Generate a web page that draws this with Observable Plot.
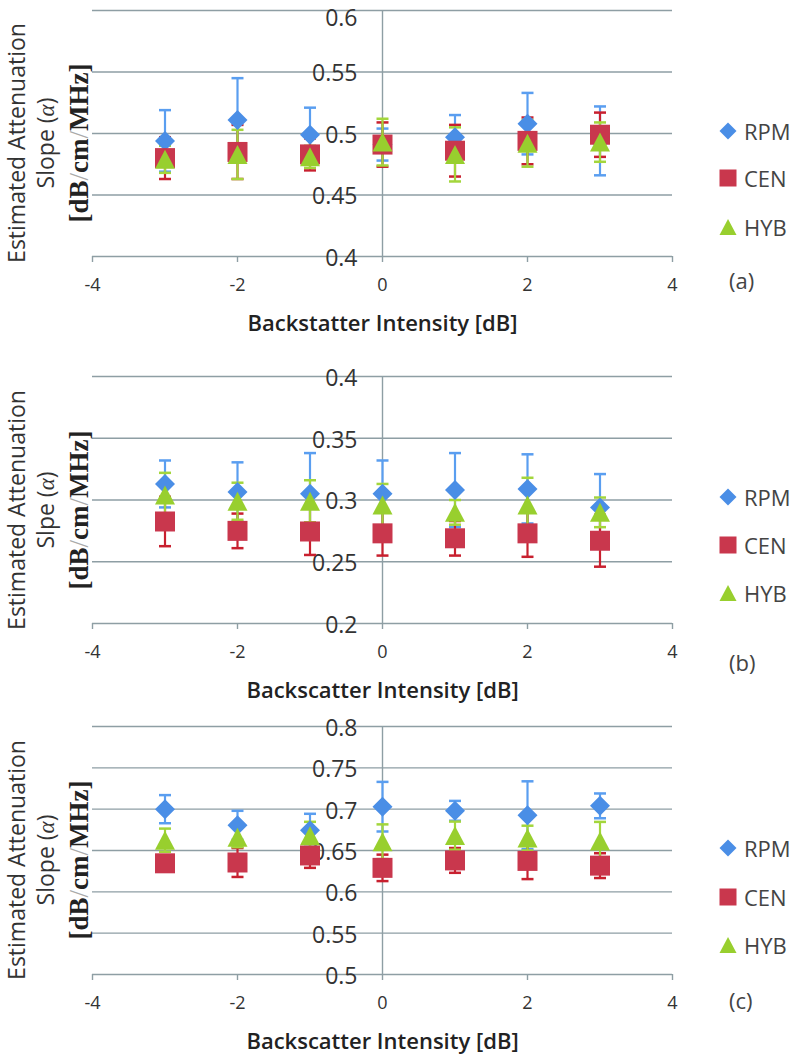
<!DOCTYPE html>
<html>
<head>
<meta charset="utf-8">
<script src="https://cdn.jsdelivr.net/npm/d3@7"></script>
<script src="https://cdn.jsdelivr.net/npm/@observablehq/plot@0.6"></script>
<style>
  body { margin: 0; background: #fff; }
  #root { position: relative; width: 793px; height: 1060px; overflow: hidden; font-family: "Open Sans", sans-serif; }
  .panel { position: absolute; left: 0; }
  .ytitle { position: absolute; transform: rotate(-90deg); text-align: center; color: #333; white-space: nowrap; }
  .ytitle .l1, .ytitle .l2 { font-family: "Open Sans", sans-serif; font-size: 23px; }
  .ytitle .l1 { line-height: 32px; height: 32px; }
  .ytitle .l2 { line-height: 26px; height: 26px; }
  .ytitle .l3 { line-height: 42px; height: 42px; font-family: "Liberation Serif", serif; font-weight: bold; font-size: 27px; color: #222; }
  .ytitle .sl { color: #aaa; font-weight: normal; }
  .ytitle .al { font-family: "Liberation Serif", serif; font-style: italic; }
  .leg { position: absolute; font-size: 22px; color: #444; white-space: nowrap; }
  .leg svg { position: absolute; top: 50%; transform: translateY(-50%); }
  .tag { position: absolute; font-size: 22px; color: #444; }
</style>
</head>
<body>
<div id="root"></div>
<script>
// ---------- data ----------
const xs = [-3, -2, -1, 0, 1, 2, 3];
const xTicks = [-4, -2, 0, 2, 4];
const seriesNames = ["RPM", "CEN", "HYB"];

// panel (a)
const yTicksA = [0.4, 0.45, 0.5, 0.55, 0.6];
const rpmA = [0.494, 0.511, 0.499, 0.491, 0.497, 0.508, 0.494];
const rpmAErr = [0.025, 0.034, 0.022, 0.013, 0.018, 0.025, 0.028];
const cenA = [0.480, 0.485, 0.483, 0.491, 0.486, 0.494, 0.499];
const cenAErr = [0.017, 0.022, 0.013, 0.018, 0.021, 0.019, 0.018];
const hybA = [0.479, 0.483, 0.481, 0.493, 0.483, 0.492, 0.493];
const hybAErr = [0.011, 0.020, 0.009, 0.019, 0.022, 0.019, 0.016];

// panel (b)
const yTicksB = [0.2, 0.25, 0.3, 0.35, 0.4];
const rpmB = [0.313, 0.3065, 0.305, 0.305, 0.308, 0.309, 0.294];
const rpmBErr = [0.019, 0.024, 0.033, 0.027, 0.030, 0.028, 0.027];
const cenB = [0.2826, 0.275, 0.2745, 0.273, 0.269, 0.273, 0.267];
const cenBErr = [0.020, 0.014, 0.019, 0.018, 0.014, 0.019, 0.021];
const hybB = [0.304, 0.299, 0.299, 0.296, 0.290, 0.296, 0.290];
const hybBErr = [0.018, 0.015, 0.017, 0.017, 0.010, 0.022, 0.012];

// panel (c)
const yTicksC = [0.5, 0.55, 0.6, 0.65, 0.7, 0.75, 0.8];
const rpmC = [0.700, 0.6805, 0.6744, 0.703, 0.698, 0.6927, 0.704];
const rpmCErr = [0.017, 0.0175, 0.020, 0.030, 0.012, 0.041, 0.015];
const cenC = [0.6345, 0.6355, 0.644, 0.629, 0.638, 0.6374, 0.6317];
const cenCErr = [0.008, 0.0175, 0.015, 0.016, 0.015, 0.022, 0.015];
const hybC = [0.6625, 0.666, 0.6677, 0.6606, 0.668, 0.665, 0.6616];
const hybCErr = [0.014, 0.012, 0.017, 0.021, 0.017, 0.015, 0.023];

// ---------- styles ----------
const colors = { RPM: "#4a8ee6", CEN: "#c9374d", HYB: "#98cf2e" };
const barColors = { RPM: "#5a9ef0", CEN: "#c8202f", HYB: "#a3d63c" };
const gridColor = "#8e9ea4";

const diamond = { draw(ctx, size) { const r = Math.sqrt(size / Math.PI); ctx.moveTo(0, -r); ctx.lineTo(r, 0); ctx.lineTo(0, r); ctx.lineTo(-r, 0); ctx.closePath(); } };
const square = { draw(ctx, size) { const r = Math.sqrt(size / Math.PI); ctx.moveTo(-r, -r); ctx.lineTo(r, -r); ctx.lineTo(r, r); ctx.lineTo(-r, r); ctx.closePath(); } };
const triangle = { draw(ctx, size) { const r = Math.sqrt(size / Math.PI); ctx.moveTo(0, -r * 0.95); ctx.lineTo(r, r * 0.95); ctx.lineTo(-r, r * 0.95); ctx.closePath(); } };
const cap = { draw(ctx, size) { ctx.moveTo(-6, 0); ctx.lineTo(6, 0); } };
const symbols = { RPM: diamond, CEN: square, HYB: triangle };

const panels = [
  { tag: "(a)", frameTop: 10, frameBottom: 256, yTicks: yTicksA,
    vals: { RPM: [rpmA, rpmAErr], CEN: [cenA, cenAErr], HYB: [hybA, hybAErr] },
    xTitle: "Backstatter Intensity [dB]", slope: "Slope", legendY: [131, 178, 227], tagY: 280 },
  { tag: "(b)", frameTop: 376, frameBottom: 623, yTicks: yTicksB,
    vals: { RPM: [rpmB, rpmBErr], CEN: [cenB, cenBErr], HYB: [hybB, hybBErr] },
    xTitle: "Backscatter Intensity [dB]", slope: "Slpe", legendY: [497, 545, 593], tagY: 662 },
  { tag: "(c)", frameTop: 726, frameBottom: 974, yTicks: yTicksC,
    vals: { RPM: [rpmC, rpmCErr], CEN: [cenC, cenCErr], HYB: [hybC, hybCErr] },
    xTitle: "Backscatter Intensity [dB]", slope: "Slope", legendY: [848, 897, 945], tagY: 1000 }
];

const root = document.getElementById("root");

for (const p of panels) {
  const yMin = d3.min(p.yTicks), yMax = d3.max(p.yTicks);
  const rows = {};
  for (const s of seriesNames) {
    const [m, e] = p.vals[s];
    rows[s] = xs.map((x, i) => ({ x, m: m[i], e: e[i] }));
  }
  const marginTop = 10, marginBottom = 86;
  const height = (p.frameBottom - p.frameTop) + marginTop + marginBottom;
  const innerTicks = p.yTicks.filter(d => d !== yMax);
  const marks = [
    Plot.ruleY(p.yTicks, { y: d => d, stroke: gridColor, strokeWidth: 1.4 }),
    Plot.ruleX([0], { x: d => d, stroke: gridColor, strokeWidth: 1.4 }),
    Plot.axisX({ ticks: xTicks, tickSize: 6, tickFormat: () => "", label: null, stroke: gridColor, strokeWidth: 1.4 }),
    Plot.text(xTicks, { x: d => d, text: d => (d < 0 ? "-" + (-d) : String(d)), frameAnchor: "bottom", dy: 34, fontSize: 18, fill: "#333" }),
    Plot.text(innerTicks, { x: 0, y: d => d, text: d => String(d), textAnchor: "end", dx: -25, dy: 2, fontSize: 23, fill: "#333" }),
    // top tick label nudged down when it sits at the page edge
    Plot.text([yMax], { x: 0, y: d => d, text: d => String(d), textAnchor: "end", dx: -25, dy: p.frameTop < 20 ? 8 : 2, fontSize: 23, fill: "#333" }),
    Plot.text([p.xTitle], { text: d => d, frameAnchor: "bottom", dy: 74, fontSize: 22, fontWeight: 600, fill: "#222" })
  ];
  for (const s of seriesNames) {
    marks.push(Plot.ruleX(rows[s], { x: "x", y1: d => d.m - d.e, y2: d => d.m + d.e, stroke: barColors[s], strokeWidth: 2.2 }));
    marks.push(Plot.dot(rows[s], { x: "x", y: d => d.m + d.e, symbol: cap, r: 6, stroke: barColors[s], strokeWidth: 2.5, fill: "none" }));
    marks.push(Plot.dot(rows[s], { x: "x", y: d => d.m - d.e, symbol: cap, r: 6, stroke: barColors[s], strokeWidth: 2.5, fill: "none" }));
  }
  for (const s of seriesNames) {
    marks.push(Plot.dot(rows[s], { x: "x", y: "m", symbol: symbols[s], r: 10, fill: colors[s], stroke: "none" }));
  }
  const chart = Plot.plot({
    width: 793,
    height,
    marginLeft: 92,
    marginRight: 121,
    marginTop,
    marginBottom,
    style: { fontFamily: "'Open Sans', sans-serif", background: "transparent", overflow: "visible" },
    x: { domain: [-4, 4], label: null },
    y: { domain: [yMin, yMax], axis: null },
    marks
  });
  const wrap = document.createElement("div");
  wrap.className = "panel";
  wrap.style.top = (p.frameTop - marginTop) + "px";
  wrap.appendChild(chart);
  root.appendChild(wrap);

  // y-axis title (rotated)
  const cy = (p.frameTop + p.frameBottom) / 2 + 10;
  const cx = 50, tw = 280, th = 100;
  const yt = document.createElement("div");
  yt.className = "ytitle";
  yt.style.left = (cx - tw / 2) + "px";
  yt.style.top = (cy - th / 2) + "px";
  yt.style.width = tw + "px";
  yt.style.height = th + "px";
  yt.innerHTML = `<div class="l1">Estimated Attenuation</div>` +
    `<div class="l2">${p.slope} (<span class="al">α</span>)</div>` +
    `<div class="l3">[dB<span class="sl">/</span>cm<span class="sl">/</span>MHz]</div>`;
  root.appendChild(yt);

  // legend
  const legendShapes = {
    RPM: `<svg width="18" height="18"><path d="M9,0.5L17.5,9L9,17.5L0.5,9Z" fill="${colors.RPM}"/></svg>`,
    CEN: `<svg width="18" height="18"><rect x="0.5" y="0.5" width="17" height="17" fill="${colors.CEN}"/></svg>`,
    HYB: `<svg width="18" height="18"><path d="M9,1L17.5,17L0.5,17Z" fill="${colors.HYB}"/></svg>`
  };
  seriesNames.forEach((s, i) => {
    const lg = document.createElement("div");
    lg.className = "leg";
    lg.style.left = "744px";
    lg.style.top = (p.legendY[i] - 15) + "px";
    lg.style.height = "30px";
    lg.style.lineHeight = "30px";
    lg.innerHTML = legendShapes[s].replace("<svg", `<svg style="left:-25px"`) + s;
    root.appendChild(lg);
  });
  const tg = document.createElement("div");
  tg.className = "tag";
  tg.style.left = "729px";
  tg.style.top = (p.tagY - 15) + "px";
  tg.style.lineHeight = "30px";
  tg.textContent = p.tag;
  root.appendChild(tg);
}
</script>
</body>
</html>
